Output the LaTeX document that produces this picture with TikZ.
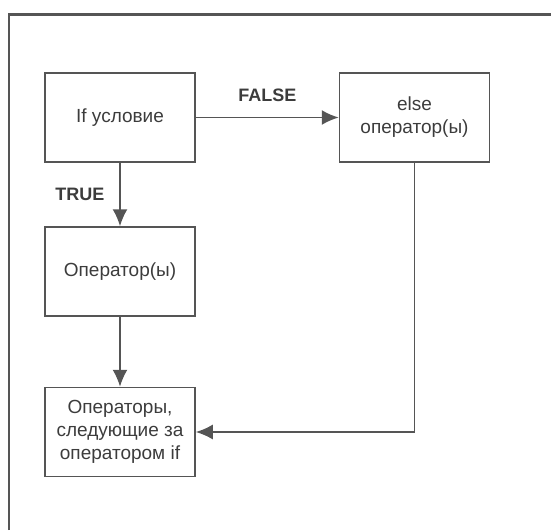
\documentclass[tikz,border=0pt]{standalone}
\usepackage{fontspec}
\setmainfont{Liberation Sans}
\usepackage{xcolor}
\usetikzlibrary{arrows.meta,positioning}
\definecolor{inkgray}{HTML}{3C3C3C}
\definecolor{linegray}{HTML}{555555}

\begin{document}
\begin{tikzpicture}[x=0.5pt, y=-0.5pt,
    box/.style={draw=linegray, line width=0.75pt, minimum width=75pt, minimum height=44.5pt,
                inner sep=0pt, align=center, text=inkgray, font=\fontsize{9.5}{11.5}\selectfont},
    flow/.style={draw=linegray, line width=0.9pt, -{Latex[length=8.5pt, width=7.5pt]}},
    tag/.style={text=inkgray, font=\fontsize{9}{11}\selectfont\bfseries}]
    \useasboundingbox (0,0) rectangle (551,530);

    % рамка
    \draw[linegray, line width=1.3pt] (9,530) -- (9,14.5) -- (551,14.5);

    % блоки
    \node[box] (cond) at (120,117.5) {If условие};
    \node[box] (other) at (414.5,117.5) {else\\оператор(ы)};
    \node[box] (body) at (120,271.5) {Оператор(ы)};
    \node[box] (next) at (120,432) {Операторы,\\следующие за\\оператором if};

    % переходы
    \draw[flow] (cond) -- node[tag, above=4pt] {FALSE} (other);
    \draw[flow] (cond) -- node[tag, left=4pt] {TRUE} (body);
    \draw[flow] (body) -- (next);
    \draw[flow] (other.south) |- (next.east);
\end{tikzpicture}
\end{document}
